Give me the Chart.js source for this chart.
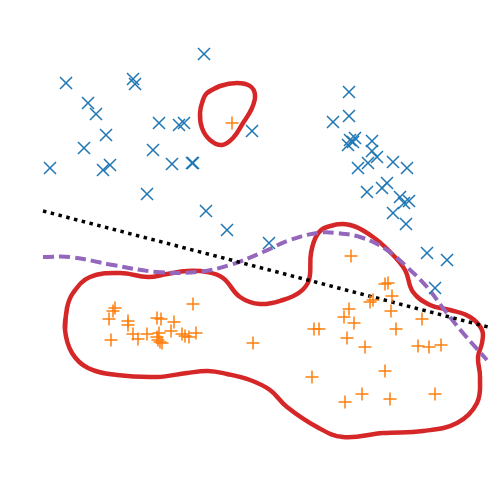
<!DOCTYPE html>
<html>
<head>
<meta charset="utf-8">
<script src="https://cdn.jsdelivr.net/npm/chart.js@4"></script>
<style>
html,body{margin:0;padding:0;background:#fff;}
#wrap{width:499px;height:479px;}
</style>
</head>
<body>
<div id="wrap"><canvas id="c" width="499" height="479"></canvas></div>
<script>
// Class 0 (blue "x") samples
const blueX = [204,66,133,135,88,96,106,84,50,103,110,159,179,184,153,172,192,193,147,206,227,269,252,
  349,349,333,350,355,348,353,372,372,377,368,358,393,407,367,382,387,400,404,409,393,406,427,447,435];
const blueY = [54,83,79,84,103,114,135,148,168,170,165,123,125,123,150,164,163,163,194,211,230,243,131,
  92,116,122,140,138,145,142,141,151,157,163,168,162,168,192,188,183,197,203,201,213,224,253,260,288];
// Class 1 (orange "+") samples
const orangeX = [232,351,385,388,392,370,373,349,344,354,391,422,314,319,396,347,365,418,429,441,253,385,312,435,362,345,390,
  115,113,109,128,128,111,157,161,174,193,171,133,138,147,157,159,160,162,158,182,185,189,196];
const orangeY = [123,256,284,283,296,302,300,309,317,323,311,319,329,329,329,338,347,346,347,345,343,371,377,394,394,402,399,
  308,311,319,321,325,340,318,319,322,304,331,334,339,334,337,333,342,343,340,334,336,337,333];
// Decision boundaries
const linearX = [43,488];
const linearY = [211,327];
const curveX = [43,70,113,157,197,230,263,290,317,337,363,387,407,427,443,463,487];
const curveY = [257,257,265,272,272,265,252,240,233,233,238,250,267,287,308,333,360];
// Density contours (closed; the first two points are repeated at the end to close smoothly)
const smallX = [207,220,237,250,255,252,243,233,222,210,202,200,203,207,220];
const smallY = [93,86,83,86,95,108,123,138,145,140,128,113,100,93,86];
const bigX = [65,67,73,90,120,148,167,187,207,223,240,260,283,300,309,311,317,327,350,373,390,405,413,430,450,470,482,482,478,480,477,457,423,383,343,317,287,270,250,227,208,187,157,117,88,72,65,67];
const bigY = [330,308,293,277,273,277,274,271,272,278,297,304,300,292,280,253,235,227,225,237,252,270,292,305,310,317,330,343,357,377,403,423,431,433,437,427,407,390,380,374,371,373,377,375,368,353,330,308];

const pts = (xs, ys) => xs.map((x, i) => ({x: x, y: ys[i]}));

new Chart(document.getElementById('c'), {
  type: 'scatter',
  data: {
    datasets: [
      {data: pts(blueX, blueY), pointStyle: 'crossRot', pointRadius: 8.5, borderColor: '#1f77b4', backgroundColor: '#1f77b4', pointBorderWidth: 1.5, order: 1},
      {data: pts(orangeX, orangeY), pointStyle: 'cross', pointRadius: 6.5, borderColor: '#ff7f0e', backgroundColor: '#ff7f0e', pointBorderWidth: 1.5, order: 2},
      {data: pts(linearX, linearY), showLine: true, pointRadius: 0, borderColor: '#000', borderWidth: 3.5, borderDash: [3.5, 4.5], order: 3},
      {data: pts(curveX, curveY), showLine: true, pointRadius: 0, borderColor: '#9467bd', borderWidth: 4, borderDash: [11, 5], tension: 0.4, order: 4},
      {data: pts(smallX, smallY), showLine: true, pointRadius: 0, borderColor: '#d62728', borderWidth: 4.5, tension: 0.4, order: 5},
      {data: pts(bigX, bigY), showLine: true, pointRadius: 0, borderColor: '#d62728', borderWidth: 4.5, tension: 0.4, order: 5}
    ]
  },
  options: {
    responsive: false,
    animation: false,
    layout: {padding: 0, autoPadding: false},
    plugins: {legend: {display: false}, tooltip: {enabled: false}},
    scales: {
      x: {type: 'linear', min: 0, max: 499, display: false},
      y: {type: 'linear', min: 0, max: 479, reverse: true, display: false}
    }
  }
});
</script>
</body>
</html>
